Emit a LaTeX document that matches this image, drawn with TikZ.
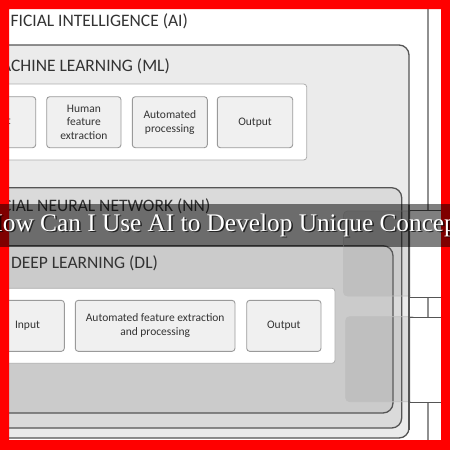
\documentclass[tikz,border=0pt]{standalone}
\usepackage{fontspec}
\setmainfont{Carlito}
\newfontfamily\bannerfont{Liberation Serif}
\definecolor{framered}{RGB}{255,0,0}
\definecolor{edge}{HTML}{555555}
\definecolor{mlfill}{HTML}{EBEBEB}
\definecolor{nnfill}{HTML}{DADADA}
\definecolor{dlfill}{HTML}{CBCBCB}
\definecolor{subfill}{HTML}{F0F0F0}
\definecolor{subedge}{HTML}{9A9A9A}
\definecolor{txt}{HTML}{333333}
\tikzset{
  container/.style={draw=edge, line width=1.3pt, rounded corners=10pt},
  panel/.style={draw=subedge!80, fill=white, line width=0.8pt, rounded corners=3pt},
  sub/.style={draw=subedge, fill=subfill, line width=0.9pt, rounded corners=3pt,
    minimum height=51pt, inner sep=0pt, align=center, text=txt,
    font=\fontsize{11.5}{13.8}\selectfont},
  biglabel/.style={anchor=base west, inner sep=0pt, text=txt,
    font=\fontsize{17.5}{20}\selectfont},
  tile/.style={draw=gray!50, fill=gray, fill opacity=0.15, line width=0.8pt, rounded corners=4pt},
  tileline/.style={draw=edge, line width=0.9pt},
  bannertext/.style={anchor=base west, inner sep=0pt,
    font=\bannerfont\fontsize{25.3}{27}\selectfont}
}
\begin{document}
\begin{tikzpicture}[x=1pt,y=-1pt]
\useasboundingbox (0,0) rectangle (450,450);
\begin{scope}
\clip (0,0) rectangle (450,450);
% containers
\draw[container, fill=white] (-40,-5) rectangle (428,470);
\draw[container, fill=mlfill] (-30,45) rectangle (409,438);
\draw[container, fill=nnfill] (-60,187.7) rectangle (401.7,428);
\draw[container, fill=dlfill] (-20,245.7) rectangle (393,413);
% labels
\node[biglabel] (ai) at (-22,26.7) {ARTIFICIAL INTELLIGENCE (AI)};
\node[biglabel] (ml) at (-14,71.7) {MACHINE LEARNING (ML)};
\node[biglabel] (nn) at (-43,211) {ARTIFICIAL NEURAL NETWORK (NN)};
\node[biglabel] (dl) at (10.8,268.3) {DEEP LEARNING (DL)};
% ML panel
\draw[panel] (-50,84) rectangle (306.7,160);
\node[sub, minimum width=75pt] (mlin) at (-1.8,122.2) {Input};
\node[sub, minimum width=74.3pt] (mlhum) at (83.85,122.2) {Human\\feature\\extraction};
\node[sub, minimum width=75pt] (mlauto) at (169.8,122.2) {Automated\\processing};
\node[sub, minimum width=75.4pt] (mlout) at (255,122.2) {Output};
% DL panel
\draw[panel] (-20,288.3) rectangle (335,363.3);
\node[sub, minimum width=73.6pt] (dlin) at (27.5,325.85) {Input};
\node[sub, minimum width=159.7pt] (dlauto) at (155.15,325.85) {Automated feature extraction\\and processing};
\node[sub, minimum width=74.3pt] (dlout) at (283.85,325.85) {Output};
% overlay tiles on the right
\draw[tile] (343.5,211) rectangle (416,296);
\draw[tile] (345.7,316.7) rectangle (416,401.7);
\fill[white] (410.8,210) rectangle (441,297);
\fill[white] (410.8,317) rectangle (441,402);
\draw[tileline] (410,210) -- (441,210);
\draw[tileline] (410,297) -- (441,297);
\draw[tileline] (410,317) -- (441,317);
\draw[tileline] (410,402) -- (441,402);
\draw[edge, line width=1.3pt] (409,205) -- (409,430);
% red frame
\fill[framered, even odd rule] (0,0) rectangle (450,450) (9,9) rectangle (441,440);
% banner
\fill[black, opacity=0.5] (0,204.3) rectangle (450,246.7);
\node[bannertext, text=black, opacity=0.7] (bannershadow) at (-14,232.3)
  {How Can I Use AI to Develop Unique Concepts?};
\node[bannertext, text=white] (banner) at (-15.5,231)
  {How Can I Use AI to Develop Unique Concepts?};
\end{scope}
\end{tikzpicture}
\end{document}
